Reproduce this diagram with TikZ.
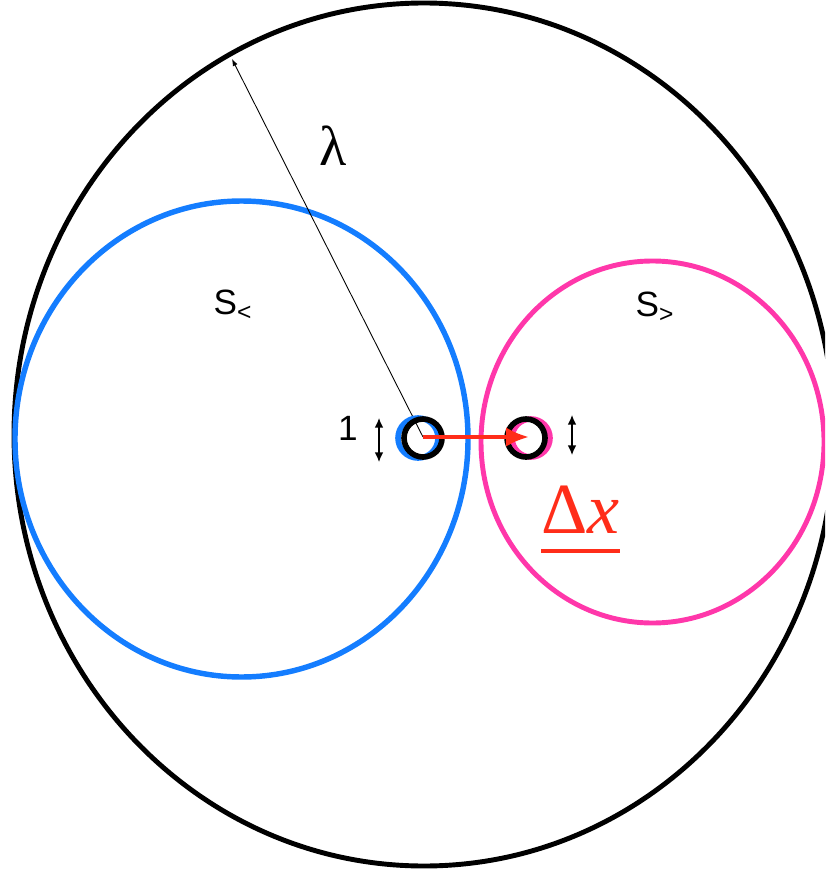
\documentclass[tikz,border=0pt]{standalone}
\usepackage{fontspec}
\setmainfont{Liberation Sans}
\newfontfamily\serifT{Liberation Serif}
\usetikzlibrary{arrows.meta}
\definecolor{AzulMenor}{RGB}{20,125,255}
\definecolor{RosaMayor}{RGB}{255,55,170}
\definecolor{RojoDesp}{RGB}{255,45,25}
\tikzset{
  ondaS/.style={line width=3.1pt},
  celda/.style={line width=3.2pt},
  flechita/.style={line width=0.8pt,{Latex[length=5.5pt,width=5pt]}-{Latex[length=5.5pt,width=5pt]}}
}

\begin{document}
\begin{tikzpicture}[x=0.02cm,y=-0.02cm,>=Latex]
  \useasboundingbox (0,0) rectangle (825,871);
  \clip (0,0) rectangle (825,871);
  % circulo grande de radio lambda
  \draw[line width=2.8pt] (424,434.5) ellipse [x radius=410, y radius=431.5];
  % S< y S>
  \draw[AzulMenor,ondaS] (241.5,439) ellipse [x radius=226.5, y radius=238];
  \draw[RosaMayor,ondaS,line width=2.8pt] (652.5,442) ellipse [x radius=171.5, y radius=181];
  \node (Smenor) at (233,305) {\fontsize{20}{24}\selectfont S\textsubscript{<}};
  \node (Smayor) at (655,307) {\fontsize{20}{24}\selectfont S\textsubscript{>}};
  % radio lambda
  \coordinate (O) at (423,437);
  \coordinate (borde) at (232,59);
  \draw[line width=0.5pt,-{Latex[length=4pt,width=3pt]}] (O) -- (borde);
  \node (lambda) at (333,146) {\serifT\fontsize{32}{36}\selectfont λ};
  % celdas de tamano 1
  \draw[AzulMenor,celda] (418,438) circle [radius=20];
  \draw[celda] (423,438) circle [radius=19];
  \draw[RosaMayor,celda] (531,438) circle [radius=19];
  \draw[celda] (526,438) circle [radius=19];
  \coordinate (P) at (529,437);
  \draw[RojoDesp,line width=2.3pt,-{Latex[length=13pt,width=11pt]}] (O) -- (P);
  % escala 1
  \node (uno) at (348,428) {\fontsize{20}{24}\selectfont 1};
  \coordinate (a1) at (379,418); \coordinate (a2) at (379,462);
  \coordinate (b1) at (572,415); \coordinate (b2) at (572,455);
  \draw[flechita] (a1) -- (a2);
  \draw[flechita] (b1) -- (b2);
  % desplazamiento
  \node[RojoDesp,anchor=base west,inner sep=0pt] (dx) at (541,533)
    {\serifT\fontsize{41}{46}\selectfont Δ\textit{x}};
  \draw[RojoDesp,line width=2.2pt] ([yshift=-10pt]dx.base west) -- ([yshift=-10pt]dx.base east);
\end{tikzpicture}
\end{document}
